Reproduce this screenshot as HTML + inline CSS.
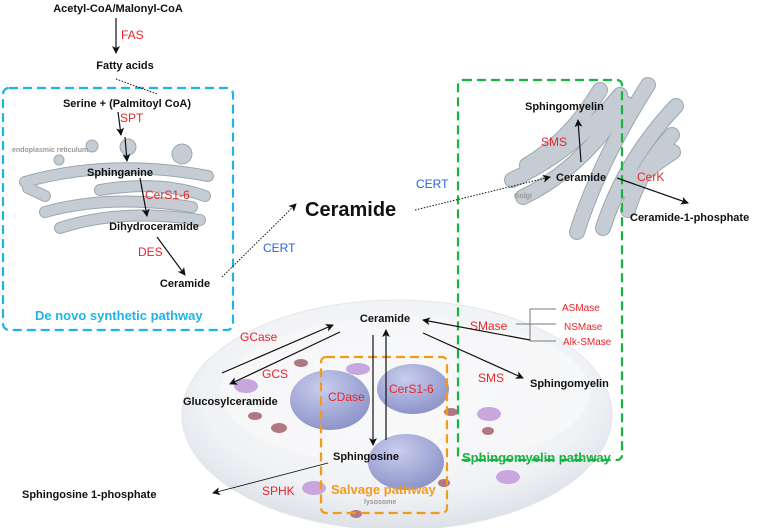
<!DOCTYPE html>
<html><head><meta charset="utf-8"><style>
html,body{margin:0;padding:0;background:#fff;}
svg{display:block;font-family:"Liberation Sans",Arial,sans-serif;}
.b{font-weight:bold;font-size:11px;fill:#111;}
.r{font-size:12px;fill:#e8262a;}
.rs{font-size:10px;fill:#e8262a;}
.bl{font-size:12px;fill:#2b63e6;}
.g{font-size:7px;font-weight:bold;fill:#999;}
.to{fill:none;stroke:#9ba8b0;stroke-linecap:round;}
.ti{fill:none;stroke:#c5ccd3;stroke-linecap:round;}
</style></head><body>
<svg width="767" height="528" viewBox="0 0 767 528" xmlns="http://www.w3.org/2000/svg">
<defs>
<marker id="a" markerWidth="8" markerHeight="8" refX="7" refY="4" orient="auto" markerUnits="userSpaceOnUse"><path d="M0,0 L8,4 L0,8 L2,4 z" fill="#111"/></marker>
<radialGradient id="lys" cx="0.5" cy="0.4" r="0.6"><stop offset="0" stop-color="#fafbfc"/><stop offset="0.75" stop-color="#f0f2f5"/><stop offset="1" stop-color="#dde1e7"/></radialGradient>
<radialGradient id="blob" cx="0.4" cy="0.3" r="0.7"><stop offset="0" stop-color="#c9cdee"/><stop offset="1" stop-color="#8e95c9"/></radialGradient>
<g id="erp">
<path d="M25,182 Q110,158 208,176"/>
<path d="M28,188 L45,196"/>
<path d="M100,190 Q160,180 205,196"/>
<path d="M45,212 Q110,194 192,207"/>
<path d="M60,228 Q120,208 200,220"/>
</g>
<g id="gp">
<path d="M527,165 Q570,140 600,90"/>
<path d="M512,180 Q575,150 620,95"/>
<path d="M523,197 Q580,170 625,103"/>
<path d="M577,232 Q600,160 648,85"/>
<path d="M603,228 Q625,160 676,106"/>
<path d="M628,210 Q640,170 672,135"/>
<path d="M626,190 Q645,170 673,152"/>
</g>
</defs>
<!-- lysosome -->
<ellipse cx="397" cy="415" rx="215" ry="115" fill="url(#lys)" stroke="#e3e6ea"/>
<ellipse cx="405" cy="392" rx="185" ry="75" fill="#f7f8f9" opacity="0.8"/>
<ellipse cx="330" cy="400" rx="40" ry="30" fill="url(#blob)"/>
<ellipse cx="413" cy="389" rx="36" ry="25" fill="url(#blob)"/>
<ellipse cx="406" cy="462" rx="38" ry="28" fill="url(#blob)"/>
<g fill="#c9a6dd"><ellipse cx="246" cy="386" rx="12" ry="7"/><ellipse cx="358" cy="369" rx="12" ry="6"/><ellipse cx="489" cy="414" rx="12" ry="7"/><ellipse cx="508" cy="477" rx="12" ry="7"/><ellipse cx="314" cy="488" rx="12" ry="7"/></g>
<g fill="#b07882"><ellipse cx="301" cy="363" rx="7" ry="4"/><ellipse cx="255" cy="416" rx="7" ry="4"/><ellipse cx="279" cy="428" rx="8" ry="5"/><ellipse cx="451" cy="412" rx="7" ry="4"/><ellipse cx="488" cy="431" rx="6" ry="4"/><ellipse cx="444" cy="483" rx="6" ry="4"/><ellipse cx="356" cy="514" rx="6" ry="4"/></g>
<!-- ER -->
<use href="#erp" class="to" stroke-width="12"/>
<use href="#erp" class="ti" stroke-width="10"/>
<g fill="#c5ccd3" stroke="#9ba8b0" stroke-width="1">
<circle cx="128" cy="147" r="8"/><circle cx="92" cy="146" r="6"/><circle cx="59" cy="160" r="5"/><circle cx="182" cy="154" r="10"/>
</g>
<text class="g" x="12" y="152">endoplasmic reticulum</text>
<!-- Golgi -->
<use href="#gp" class="to" stroke-width="16"/>
<use href="#gp" class="ti" stroke-width="14"/>
<text class="g" x="514" y="198">Golgi</text>
<!-- boxes -->
<rect x="3" y="88" width="230" height="242" rx="6" fill="none" stroke="#1eb4e8" stroke-width="2.2" stroke-dasharray="9,5"/>
<rect x="458" y="80" width="164" height="380" rx="5" fill="none" stroke="#16b440" stroke-width="2.2" stroke-dasharray="9,5"/>
<rect x="321" y="357" width="126" height="156" rx="5" fill="none" stroke="#f39a1a" stroke-width="2.2" stroke-dasharray="9,5"/>
<!-- top pathway -->
<text class="b" x="118" y="12" text-anchor="middle">Acetyl-CoA/Malonyl-CoA</text>
<line x1="116" y1="18" x2="116" y2="53" stroke="#111" stroke-width="1.2" marker-end="url(#a)"/>
<text class="r" x="121" y="39">FAS</text>
<text class="b" x="125" y="69" text-anchor="middle">Fatty acids</text>
<line x1="116" y1="79" x2="157" y2="94" stroke="#111" stroke-dasharray="1.5,1.5"/>
<text class="b" x="127" y="107" text-anchor="middle">Serine + (Palmitoyl CoA)</text>
<text class="r" x="120" y="122">SPT</text>
<line x1="118" y1="112" x2="121" y2="135" stroke="#111" stroke-width="1.2" marker-end="url(#a)"/>
<line x1="125" y1="137" x2="127" y2="161" stroke="#111" stroke-width="1.2" marker-end="url(#a)"/>
<text class="b" x="120" y="176" text-anchor="middle">Sphinganine</text>
<text class="r" x="145" y="199">CerS1-6</text>
<line x1="140" y1="178" x2="147" y2="216" stroke="#111" stroke-width="1.2" marker-end="url(#a)"/>
<text class="b" x="154" y="230" text-anchor="middle">Dihydroceramide</text>
<text class="r" x="138" y="256">DES</text>
<line x1="157" y1="237" x2="185" y2="275" stroke="#111" stroke-width="1.2" marker-end="url(#a)"/>
<text class="b" x="185" y="287" text-anchor="middle">Ceramide</text>
<text x="35" y="320" font-size="13" font-weight="bold" fill="#1eb4e8">De novo synthetic pathway</text>
<line x1="222" y1="277" x2="296" y2="204" stroke="#111" stroke-dasharray="1.5,1.5" marker-end="url(#a)"/>
<text class="bl" x="263" y="252">CERT</text>
<text x="305" y="216" font-size="20" font-weight="bold" fill="#111">Ceramide</text>
<line x1="415" y1="210" x2="550" y2="177" stroke="#111" stroke-dasharray="1.5,1.5" marker-end="url(#a)"/>
<text class="bl" x="416" y="188">CERT</text>
<!-- golgi texts -->
<text class="b" x="525" y="110">Sphingomyelin</text>
<text class="r" x="541" y="146">SMS</text>
<line x1="581" y1="162" x2="578" y2="120" stroke="#111" stroke-width="1.2" marker-end="url(#a)"/>
<text class="b" x="556" y="181">Ceramide</text>
<text class="r" x="637" y="181">CerK</text>
<line x1="617" y1="178" x2="688" y2="203" stroke="#111" stroke-width="1.2" marker-end="url(#a)"/>
<text class="b" x="630" y="221">Ceramide-1-phosphate</text>
<!-- lysosome pathway -->
<text class="b" x="385" y="322" text-anchor="middle">Ceramide</text>
<text class="r" x="240" y="341">GCase</text>
<text class="r" x="262" y="378">GCS</text>
<line x1="222" y1="373" x2="333" y2="325" stroke="#111" stroke-width="1.2" marker-end="url(#a)"/>
<line x1="340" y1="332" x2="230" y2="384" stroke="#111" stroke-width="1.2" marker-end="url(#a)"/>
<text class="b" x="183" y="405">Glucosylceramide</text>
<text class="r" x="328" y="401">CDase</text>
<text class="r" x="389" y="393">CerS1-6</text>
<line x1="373" y1="335" x2="373" y2="445" stroke="#111" stroke-width="1.2" marker-end="url(#a)"/>
<line x1="386" y1="440" x2="386" y2="330" stroke="#111" stroke-width="1.2" marker-end="url(#a)"/>
<text class="b" x="366" y="460" text-anchor="middle">Sphingosine</text>
<line x1="328" y1="463" x2="213" y2="493" stroke="#111" stroke-width="0.9" marker-end="url(#a)"/>
<text class="r" x="262" y="495">SPHK</text>
<text class="b" x="22" y="498">Sphingosine 1-phosphate</text>
<text x="331" y="494" font-size="13" font-weight="bold" fill="#f39a1a">Salvage pathway</text>
<text class="g" x="364" y="504">lysosome</text>
<text class="r" x="470" y="330">SMase</text>
<path d="M516,324 H556 M530,309 V341 M530,309 H556 M530,341 H556" stroke="#777" fill="none"/>
<text class="rs" x="562" y="311">ASMase</text>
<text class="rs" x="564" y="330">NSMase</text>
<text class="rs" x="563" y="345">Alk-SMase</text>
<line x1="530" y1="340" x2="423" y2="320" stroke="#111" stroke-width="1.2" marker-end="url(#a)"/>
<line x1="423" y1="333" x2="523" y2="378" stroke="#111" stroke-width="1.2" marker-end="url(#a)"/>
<text class="r" x="478" y="382">SMS</text>
<text class="b" x="530" y="387">Sphingomyelin</text>
<text x="462" y="462" font-size="13" font-weight="bold" fill="#16b440">Sphingomyelin pathway</text>
</svg>
</body></html>
